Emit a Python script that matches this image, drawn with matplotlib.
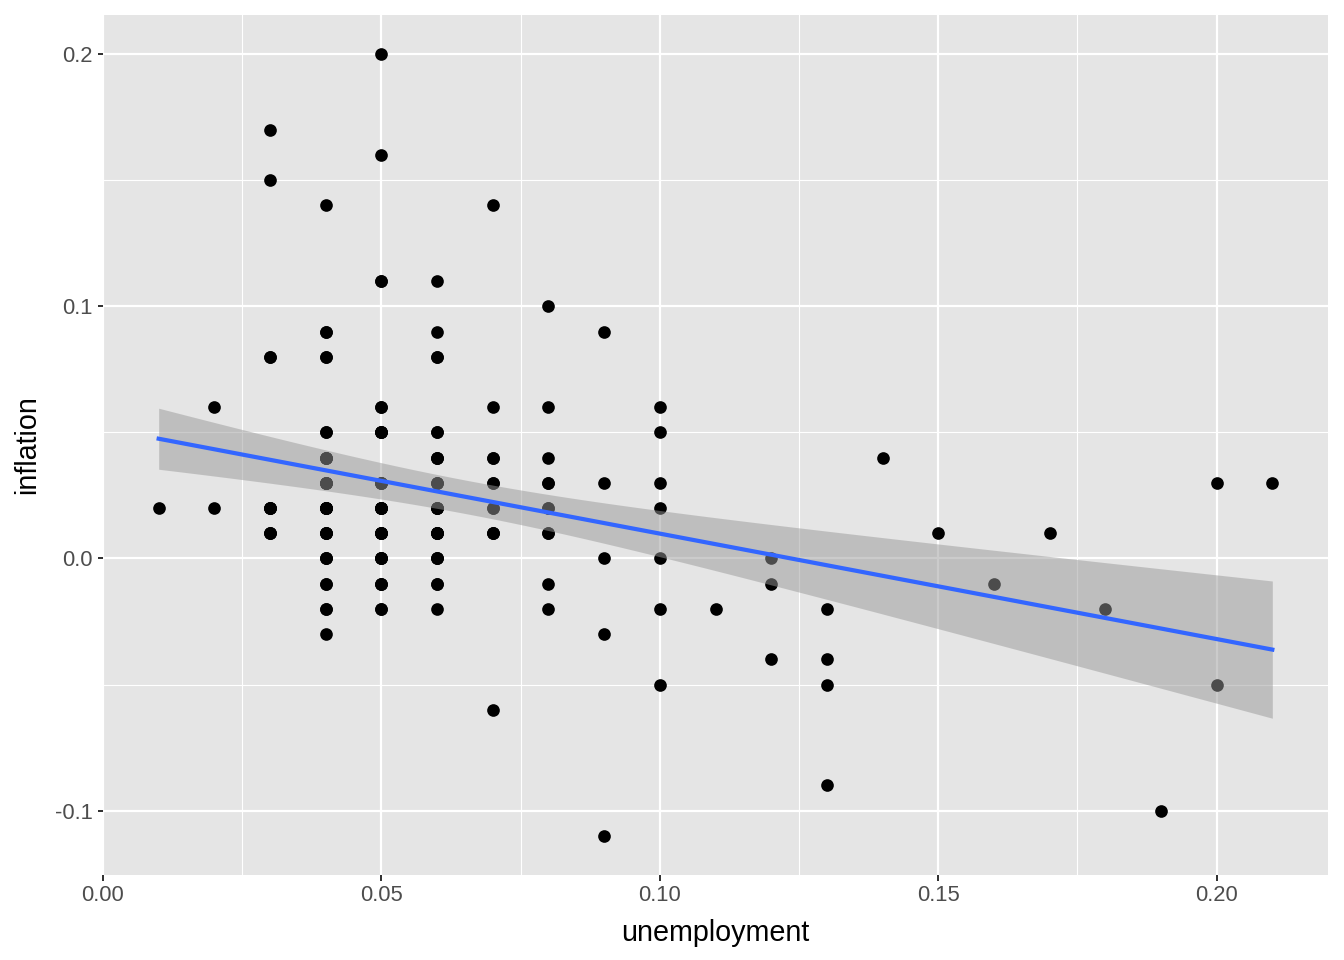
import numpy as np
import matplotlib.pyplot as plt
from matplotlib.ticker import FixedLocator, FixedFormatter

plt.rcParams['font.family'] = ['Liberation Sans', 'DejaVu Sans']

unemployment = [
    0.01,
    0.02, 0.02,
    0.03, 0.03, 0.03, 0.03, 0.03,
    0.04, 0.04, 0.04, 0.04, 0.04, 0.04, 0.04, 0.04, 0.04, 0.04, 0.04, 0.04,
    0.05, 0.05, 0.05, 0.05, 0.05, 0.05, 0.05, 0.05, 0.05, 0.05, 0.05,
    0.06, 0.06, 0.06, 0.06, 0.06, 0.06, 0.06, 0.06, 0.06, 0.06, 0.06,
    0.07, 0.07, 0.07, 0.07, 0.07, 0.07, 0.07,
    0.08, 0.08, 0.08, 0.08, 0.08, 0.08, 0.08, 0.08,
    0.09, 0.09, 0.09, 0.09, 0.09,
    0.10, 0.10, 0.10, 0.10, 0.10, 0.10, 0.10,
    0.11,
    0.12, 0.12, 0.12,
    0.13, 0.13, 0.13, 0.13,
    0.14, 0.15, 0.16, 0.17, 0.18, 0.19,
    0.20, 0.20,
    0.21,
]
inflation = [
    0.02,
    0.06, 0.02,
    0.17, 0.15, 0.08, 0.02, 0.01,
    0.14, 0.09, 0.08, 0.05, 0.04, 0.03, 0.02, 0.01, 0.00, -0.01, -0.02, -0.03,
    0.20, 0.16, 0.11, 0.06, 0.05, 0.03, 0.02, 0.01, 0.00, -0.01, -0.02,
    0.11, 0.09, 0.08, 0.05, 0.04, 0.03, 0.02, 0.01, 0.00, -0.01, -0.02,
    0.14, 0.06, 0.04, 0.03, 0.02, 0.01, -0.06,
    0.10, 0.06, 0.04, 0.03, 0.02, 0.01, -0.01, -0.02,
    0.09, 0.03, 0.00, -0.03, -0.11,
    0.06, 0.05, 0.03, 0.02, 0.00, -0.02, -0.05,
    -0.02,
    0.00, -0.01, -0.04,
    -0.02, -0.04, -0.05, -0.09,
    0.04, 0.01, -0.01, 0.01, -0.02, -0.10,
    0.03, -0.05,
    0.03,
]

# overplotted (repeated) observations in the dense centre
dup_unemployment = [0.03] * 6 + [0.04] * 22 + [0.05] * 22 + [0.06] * 16 + [0.07] * 5 + [0.08] * 3
dup_inflation = (
    [0.02, 0.02, 0.01, 0.08, 0.02, 0.01]
    + [0.05, 0.04, 0.04, 0.03, 0.03, 0.03, 0.02, 0.02, 0.02, 0.02, 0.01,
       0.01, 0.01, 0.00, 0.00, -0.01, -0.02, 0.08, 0.09, 0.02, 0.04, 0.03]
    + [0.06, 0.05, 0.05, 0.03, 0.03, 0.03, 0.02, 0.02, 0.02, 0.02, 0.01,
       0.01, 0.01, 0.01, 0.00, 0.00, 0.00, -0.01, -0.01, -0.02, 0.11, 0.05]
    + [0.05, 0.04, 0.04, 0.03, 0.03, 0.02, 0.02, 0.02, 0.01, 0.01, 0.01,
       0.00, 0.00, -0.01, 0.08, 0.01]
    + [0.01, 0.02, 0.03, 0.04, 0.01]
    + [0.02, 0.01, 0.03]
)

x_ticks = [0.00, 0.05, 0.10, 0.15, 0.20]
x_labels = ['0.00', '0.05', '0.10', '0.15', '0.20']
y_ticks = [-0.1, 0.0, 0.1, 0.2]
y_labels = ['-0.1', '0.0', '0.1', '0.2']

x = np.array(unemployment + dup_unemployment)
y = np.array(inflation + dup_inflation)

# linear fit with 95% confidence band (like geom_smooth(method = "lm"))
n = len(x)
slope, intercept = np.polyfit(x, y, 1)
resid = y - (intercept + slope * x)
s = np.sqrt(np.sum(resid ** 2) / (n - 2))
sxx = np.sum((x - x.mean()) ** 2)
t_crit = 1.975
xs = np.linspace(x.min(), x.max(), 80)
fit = intercept + slope * xs
se = s * np.sqrt(1 / n + (xs - x.mean()) ** 2 / sxx)

fig = plt.figure(figsize=(1344 / 144, 960 / 144), dpi=144)
ax = fig.add_axes([103 / 1344, 1 - 875 / 960, (1328 - 103) / 1344, (875 - 15) / 960])

ax.set_facecolor('#E5E5E5')
for sp in ax.spines.values():
    sp.set_visible(False)

ax.scatter(x, y, s=40, color='black', linewidths=0, zorder=3)
ax.fill_between(xs, fit - t_crit * se, fit + t_crit * se, color='#999999', alpha=0.5,
                linewidth=0, zorder=4)
ax.plot(xs, fit, color='#3366FF', linewidth=2.1, zorder=5)

xr = x.max() - x.min()
yr = y.max() - y.min()
ax.set_xlim(x.min() - 0.05 * xr, x.max() + 0.05 * xr)
ax.set_ylim(y.min() - 0.05 * yr, y.max() + 0.05 * yr)

ax.xaxis.set_major_locator(FixedLocator(x_ticks))
ax.xaxis.set_major_formatter(FixedFormatter(x_labels))
ax.yaxis.set_major_locator(FixedLocator(y_ticks))
ax.yaxis.set_major_formatter(FixedFormatter(y_labels))
ax.xaxis.set_minor_locator(FixedLocator([0.025, 0.075, 0.125, 0.175]))
ax.yaxis.set_minor_locator(FixedLocator([-0.05, 0.05, 0.15]))

ax.set_axisbelow(True)
ax.grid(which='major', color='white', linewidth=1.1)
ax.grid(which='minor', color='white', linewidth=0.55)
ax.tick_params(which='major', length=2.75, width=1.0, color='#333333',
               labelsize=11, labelcolor='#4D4D4D', pad=2.2)
ax.tick_params(which='minor', length=0)

ax.set_xlabel('unemployment', fontsize=14.4, color='black', labelpad=6.5)
ax.set_ylabel('inflation', fontsize=14.4, color='black', labelpad=7)

fig.savefig('out.png', dpi=144)
